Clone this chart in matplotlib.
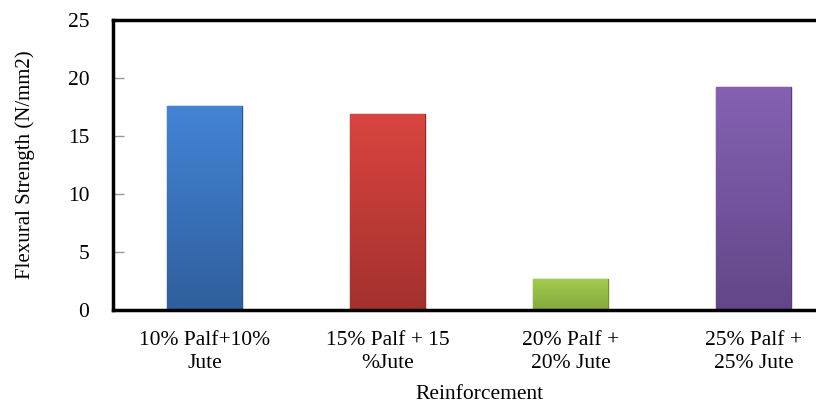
import matplotlib
matplotlib.use("Agg")
import matplotlib.pyplot as plt
import numpy as np
from matplotlib.colors import LinearSegmentedColormap

categories = ["10% Palf+10%\nJute", "15% Palf + 15\n%Jute", "20% Palf +\n20% Jute", "25% Palf +\n25% Jute"]
values = [17.6, 16.9, 2.65, 19.25]
top_colors = ["#4384D6", "#DA4540", "#A2CC4E", "#8462B2"]
bottom_colors = ["#2F5F9C", "#A3312E", "#85A83D", "#634689"]
edge_colors = ["#2A5486", "#8E2B28", "#718F33", "#573D78"]
y_ticks = [0, 5, 10, 15, 20, 25]

plt.rcParams['font.family'] = ['Liberation Serif', 'DejaVu Serif']

fig = plt.figure(figsize=(8.16, 4.05), dpi=100)
ax = fig.add_axes([113/816, 1 - 310/405, 732/816, 290/405])

x = np.arange(len(categories))
bars = ax.bar(x, values, width=0.405, color=top_colors, edgecolor=edge_colors, linewidth=1.0, zorder=2)

for b, c1, c2 in zip(bars, top_colors, bottom_colors):
    cmap = LinearSegmentedColormap.from_list("g", [c2, c1])
    grad = np.linspace(0, 1, 256).reshape(-1, 1)
    x0, y0, w, h = b.get_x(), b.get_y(), b.get_width(), b.get_height()
    im = ax.imshow(grad, cmap=cmap, origin="lower", aspect="auto",
                   extent=[x0, x0 + w, y0, y0 + h], zorder=2.5)
    im.set_clip_path(b)

ax.set_xlim(-0.5, len(categories) - 0.5)
ax.set_ylim(0, 25)
ax.set_yticks(y_ticks)
ax.set_xticks(x)
ax.set_xticklabels(categories, fontsize=15.5, linespacing=1.3)
ax.tick_params(axis='y', direction='in', length=8, width=1, color='#999999',
               pad=17, labelsize=15.5)
ax.tick_params(axis='x', length=0, pad=15)

for s in ax.spines.values():
    s.set_linewidth(2.5)
    s.set_color('black')

ax.set_ylabel("Flexural Strength (N/mm2)", fontsize=15)
ax.yaxis.set_label_coords(-0.107, 0.5)
ax.set_xlabel("Reinforcement", fontsize=15.5)
ax.xaxis.set_label_coords(0.5, -0.26)

fig.savefig("out.png", dpi=100)
